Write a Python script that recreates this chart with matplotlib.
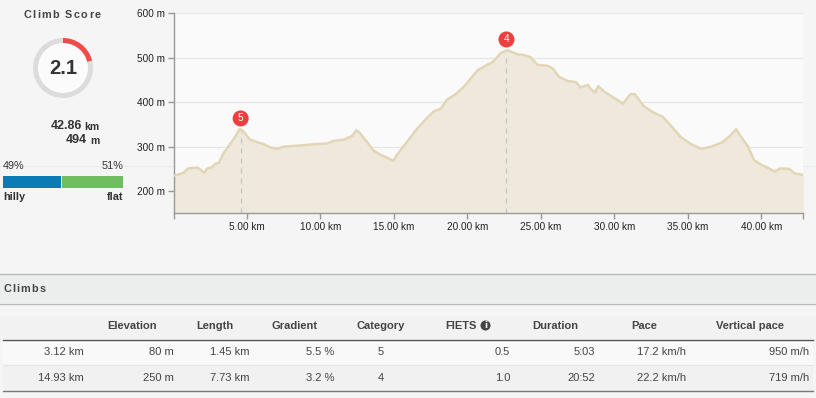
import numpy as np
import matplotlib
matplotlib.use("Agg")
import matplotlib.pyplot as plt
from matplotlib.patches import Wedge, Circle, Rectangle

# ---------------- data ----------------
dist_km = [0.0, 0.68, 1.0, 1.6, 1.8, 2.1, 2.3, 2.6, 2.84, 3.1, 3.4, 3.86, 4.2, 4.5,
           4.77, 5.2, 5.7, 6.1, 6.6, 7.05, 7.5, 8.4, 9.1, 9.77, 10.45, 10.9, 11.6,
           12.16, 12.45, 12.7, 13.2, 13.6, 14.1, 14.5, 14.95, 15.2, 15.9, 16.6, 17.3,
           17.7, 18.2, 18.6, 19.2, 19.8, 20.7, 21.4, 21.7, 22.3, 22.72, 23.4, 23.86,
           24.3, 24.77, 25.45, 25.8, 26.25, 26.8, 27.4, 27.7, 28.2, 28.4, 28.7, 28.9,
           29.3, 29.9, 30.6, 31.1, 31.4, 32.0, 32.7, 33.3, 33.8, 34.5, 35.2, 35.9,
           36.6, 37.3, 37.8, 38.3, 38.5, 39.1, 39.5, 40.0, 40.4, 40.9, 41.3, 41.9,
           42.25, 42.86]
elev_m = [234, 241, 251, 253, 249, 241, 251, 253, 261, 264, 285, 306, 322, 340,
          334, 316, 310, 306, 298, 295, 300, 302, 304, 306, 307, 313, 316,
          324, 337, 330, 309, 292, 281, 276, 268, 281, 311, 341, 366,
          379, 386, 405, 418, 436, 472, 485, 490, 511, 517, 508, 506,
          501, 484, 482, 476, 457, 448, 445, 433, 439, 429, 422, 436,
          424, 411, 397, 418, 418, 391, 376, 367, 349, 322, 306, 295,
          300, 309, 322, 339, 328, 300, 270, 259, 253, 244, 251, 250,
          240, 236]

y_ticks = [200, 300, 400, 500, 600]
x_ticks = [5, 10, 15, 20, 25, 30, 35, 40]

total_km = 42.86
total_climb_m = 494
climb_score = 2.1
score_max = 10
hilly_pct = 49
flat_pct = 51

climb_start_km = [3.12, 14.93]
climb_elev_m = [80, 250]
climb_length_km = [1.45, 7.73]
climb_gradient = [5.5, 3.2]
climb_category = [5, 4]
climb_fiets = [0.5, 1.0]
climb_duration = ["5:03", "20:52"]
climb_pace = [17.2, 22.2]
climb_vpace = [950, 719]
table_headers = ["", "Elevation", "Length", "Gradient", "Category", "FIETS",
                 "Duration", "Pace", "Vertical pace"]

# ---------------- style ----------------
FONT = ["Liberation Sans", "DejaVu Sans"]
plt.rcParams["font.family"] = FONT
W, H = 816, 398
PAGE = "#f5f5f5"
TXT = "#333333"

fig = plt.figure(figsize=(W / 100, H / 100), dpi=100, facecolor=PAGE)
renderer = fig.canvas.get_renderer()

# overlay in pixel coordinates
ov = fig.add_axes([0, 0, 1, 1], zorder=0)
ov.set_xlim(0, W)
ov.set_ylim(H, 0)
ov.axis("off")
ov.set_facecolor(PAGE)


def spaced_text(x, y, s, spacing, ha="left", **kw):
    """Draw text with extra letter spacing (pixels)."""
    widths = []
    for ch in s:
        t = ov.text(0, 0, ch if ch != " " else "a", **kw)
        bb = t.get_window_extent(renderer)
        widths.append(bb.width if ch != " " else bb.width * 0.55)
        t.remove()
    total = sum(widths) + spacing * (len(s) - 1)
    cx = x - total / 2 if ha == "center" else x
    for ch, w in zip(s, widths):
        if ch != " ":
            ov.text(cx, y, ch, ha="left", va="center", **kw)
        cx += w + spacing


# faint background line
ov.plot([0, W], [166, 166], color="#ebebeb", lw=0.8, zorder=0)

# ---------------- left panel ----------------
spaced_text(62, 15, "Climb Score", 1.3, ha="center", fontsize=7.8,
            fontweight="bold", color="#444444")
cx, cy, r = 63, 68, 30
ov.add_patch(Circle((cx, cy), r, facecolor="#dcdcdc", edgecolor="none", zorder=2))
ang = 360 * climb_score / score_max
ov.add_patch(Wedge((cx, cy), r, 270, 270 + ang, facecolor="#f14a48",
                   edgecolor="none", zorder=3))
ov.add_patch(Circle((cx, cy), r - 5, facecolor="#fbfbfb", edgecolor="none", zorder=4))
ov.text(cx, cy + 0.5, f"{climb_score:.1f}", ha="center", va="center", fontsize=14.5,
        fontweight="bold", color=TXT, zorder=5)

ov.text(82, 126, f"{total_km:.2f}", ha="right", va="center", fontsize=9,
        fontweight="bold", color=TXT)
ov.text(84, 127, "km", ha="left", va="center", fontsize=7.5, fontweight="bold", color=TXT)
ov.text(87, 140, f"{total_climb_m}", ha="right", va="center", fontsize=9,
        fontweight="bold", color=TXT)
ov.text(90, 141, "m", ha="left", va="center", fontsize=7.5, fontweight="bold", color=TXT)

bx0, bx1 = 3, 123
ov.text(bx0, 166, f"{hilly_pct}%", ha="left", va="center", fontsize=7.8, color=TXT)
ov.text(bx1, 166, f"{flat_pct}%", ha="right", va="center", fontsize=7.8, color=TXT)
split = bx0 + (bx1 - bx0) * hilly_pct / (hilly_pct + flat_pct)
ov.add_patch(Rectangle((bx0, 176), split - bx0 - 0.5, 12, facecolor="#0a7bb5",
                       edgecolor="none"))
ov.add_patch(Rectangle((split + 0.5, 176), bx1 - split - 0.5, 12, facecolor="#6fbe60",
                       edgecolor="none"))
ov.text(bx0, 197, "hilly", ha="left", va="center", fontsize=7.8, fontweight="bold", color=TXT)
ov.text(bx1, 197, "flat", ha="right", va="center", fontsize=7.8, fontweight="bold", color=TXT)

# ---------------- climbs section ----------------
ov.add_patch(Rectangle((0, 274), W, 29, facecolor="#eceeee", edgecolor="none"))
ov.plot([0, W], [274, 274], color="#b8b8b8", lw=1)
ov.plot([0, W], [303.5, 303.5], color="#b8b8b8", lw=1)
spaced_text(3, 289, "Climbs", 1.2, ha="left", fontsize=7.8, fontweight="bold",
            color="#444444")

tx0, tx1 = 3, 813
ov.add_patch(Rectangle((0, 316), W, 23, facecolor="#f2f2f2", edgecolor="none"))
ov.add_patch(Rectangle((tx0, 339), tx1 - tx0, 26, facecolor="#f9f9f9", edgecolor="none"))
ov.add_patch(Rectangle((tx0, 365), tx1 - tx0, 26, facecolor="#f1f1f1", edgecolor="none"))
ov.plot([tx0, tx1], [339.5, 339.5], color="#555555", lw=1)
ov.plot([tx0, tx1], [365, 365], color="#e4e4e4", lw=0.8)
ov.plot([tx0, tx1], [391, 391], color="#777777", lw=1)

header_x = [0, 132, 215, 295, 381, 461, 555, 644, 750]
for hx, ht in zip(header_x, table_headers):
    if ht:
        ov.text(hx, 326, ht, ha="center", va="center", fontsize=8,
                fontweight="bold", color="#444444")
# info icon next to FIETS
ov.add_patch(Circle((485.5, 325.5), 5, facecolor="#444444", edgecolor="none"))
ov.text(485.5, 326, "i", ha="center", va="center", fontsize=6, fontweight="bold",
        color="white", family="DejaVu Sans")

value_x = [84, 174, 249, 334, 381, 510, 595, 686, 809]
value_ha = ["right", "right", "right", "right", "center", "right", "right", "right", "right"]
for i, row_y in enumerate([352, 378]):
    cells = [f"{climb_start_km[i]:.2f} km", f"{climb_elev_m[i]} m",
             f"{climb_length_km[i]:.2f} km", f"{climb_gradient[i]:.1f} %",
             f"{climb_category[i]}", f"{climb_fiets[i]:.1f}", climb_duration[i],
             f"{climb_pace[i]:.1f} km/h", f"{climb_vpace[i]} m/h"]
    for vx, ha, ct in zip(value_x, value_ha, cells):
        ov.text(vx, row_y, ct, ha=ha, va="center", fontsize=8, color="#444444")

# ---------------- elevation chart ----------------
x0p, x1p, y0p, y1p = 173.5, 803.3, 213.3, 13.3
ax = fig.add_axes([x0p / W, 1 - y0p / H, (x1p - x0p) / W, (y0p - y1p) / H], zorder=2)
ax.set_facecolor("#fafafa")
ax.set_xlim(0, total_km)
ax.set_ylim(150, 600)
ax.fill_between(dist_km, elev_m, 150, color="#efe8dc", lw=0, zorder=2)
ax.plot(dist_km, elev_m, color="#e2d6b6", lw=1.8, zorder=3, solid_joinstyle="round")

for yt in y_ticks:
    ax.axhline(yt, color="#e6e6e6", lw=0.9, zorder=1)

climb_end = [s + l for s, l in zip(climb_start_km, climb_length_km)]
for xe, cat in zip(climb_end, climb_category):
    ye = float(np.interp(xe, dist_km, elev_m))
    ax.plot([xe, xe], [150, ye - 5], color="#c4c4c4", lw=0.9, ls=(0, (4, 4)), zorder=4)
    ax.annotate(str(cat), (xe, ye), xytext=(0, 8), textcoords="offset points",
                ha="center", va="center", fontsize=7.2, color="white", zorder=6,
                bbox=dict(boxstyle="circle,pad=0.3", fc="#ef3e3e", ec="none"))

for s in ["top", "right"]:
    ax.spines[s].set_visible(False)
for s in ["left", "bottom"]:
    ax.spines[s].set_color("#999999")
    ax.spines[s].set_linewidth(1)

ax.set_yticks(y_ticks)
ax.set_yticklabels([f"{v} m" for v in y_ticks])
ax.set_xticks([0] + x_ticks + [total_km])
ax.set_xticklabels([""] + [f"{v:.2f} km" for v in x_ticks] + [""])
ax.tick_params(axis="both", colors="#999999", labelcolor="#222222", labelsize=7.2,
               length=4, width=1, pad=2)

fig.savefig("out.png", dpi=100, facecolor=PAGE)
